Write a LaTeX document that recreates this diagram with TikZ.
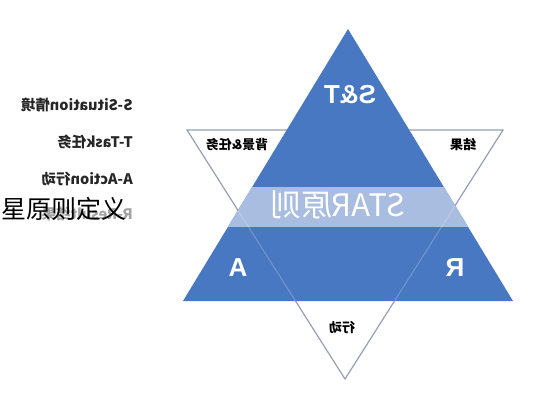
\documentclass[tikz,border=0pt]{standalone}
\usepackage{graphicx}
\usepackage{fontspec}
\setmainfont{Liberation Sans}
\newfontfamily\cjk{Noto Sans CJK SC}
\definecolor{starblue}{RGB}{72,120,194}
\definecolor{bandblue}{RGB}{168,189,224}
\definecolor{edgegray}{RGB}{150,160,178}
\tikzset{
  mirror/.style={inner sep=0pt},
  bigletter/.style={mirror, text=white, font=\bfseries\fontsize{26}{26}\selectfont},
  smalllabel/.style={mirror, text=black, font=\cjk\bfseries\fontsize{13}{13}\selectfont},
  legend/.style={mirror, anchor=east, text=black!85, font=\cjk\bfseries\fontsize{14.5}{14.5}\selectfont}
}
\begin{document}
\begin{tikzpicture}[x=1pt,y=-1pt]
\useasboundingbox (0,0) rectangle (546,400);
\fill[white] (0,0) rectangle (546,400);
% downward triangle
\coordinate (d1) at (187,130);
\coordinate (d2) at (503,130);
\coordinate (d3) at (345,379);
\draw[edgegray, line width=1.2pt, fill=white] (d1) -- (d2) -- (d3) -- cycle;
% upward blue triangle
\coordinate (u1) at (348,29);
\coordinate (u2) at (183,301);
\coordinate (u3) at (513,301);
\fill[starblue] (u1) -- (u2) -- (u3) -- cycle;
\begin{scope}
  \clip (u1) -- (u2) -- (u3) -- cycle;
  \fill[bandblue] (150,187) rectangle (550,227);
  \draw[white, opacity=0.2, line width=1.2pt] (d1) -- (d3) -- (d2);
\end{scope}
% texts in the star
\node[bigletter] (st) at (350,95) {\reflectbox{S\&T}};
\node[bigletter] (a) at (238,268) {\reflectbox{A}};
\node[bigletter] (r) at (455,268) {\reflectbox{R}};
\node[mirror, text=white, font=\cjk\fontsize{31}{31}\selectfont] (star) at (338,205) {\reflectbox{STAR原则}};
\node[smalllabel] (bg) at (237,145) {\reflectbox{背景\&任务}};
\node[smalllabel] (res) at (463,145) {\reflectbox{结果}};
\node[smalllabel] (act) at (342,328) {\reflectbox{行动}};
% legend on the left
\node[legend] (l1) at (133,105) {\reflectbox{S-Situation情境}};
\node[legend] (l2) at (133,142) {\reflectbox{T-Task任务}};
\node[legend] (l3) at (133,179) {\reflectbox{A-Action行动}};
\node[legend, text=black!45, opacity=0.8] (l4) at (133,214) {\reflectbox{R-Result结果}};
\node[mirror, anchor=west, text=black, font=\cjk\fontsize{25}{25}\selectfont] (title) at (1,209) {星原则定义};
\end{tikzpicture}
\end{document}
